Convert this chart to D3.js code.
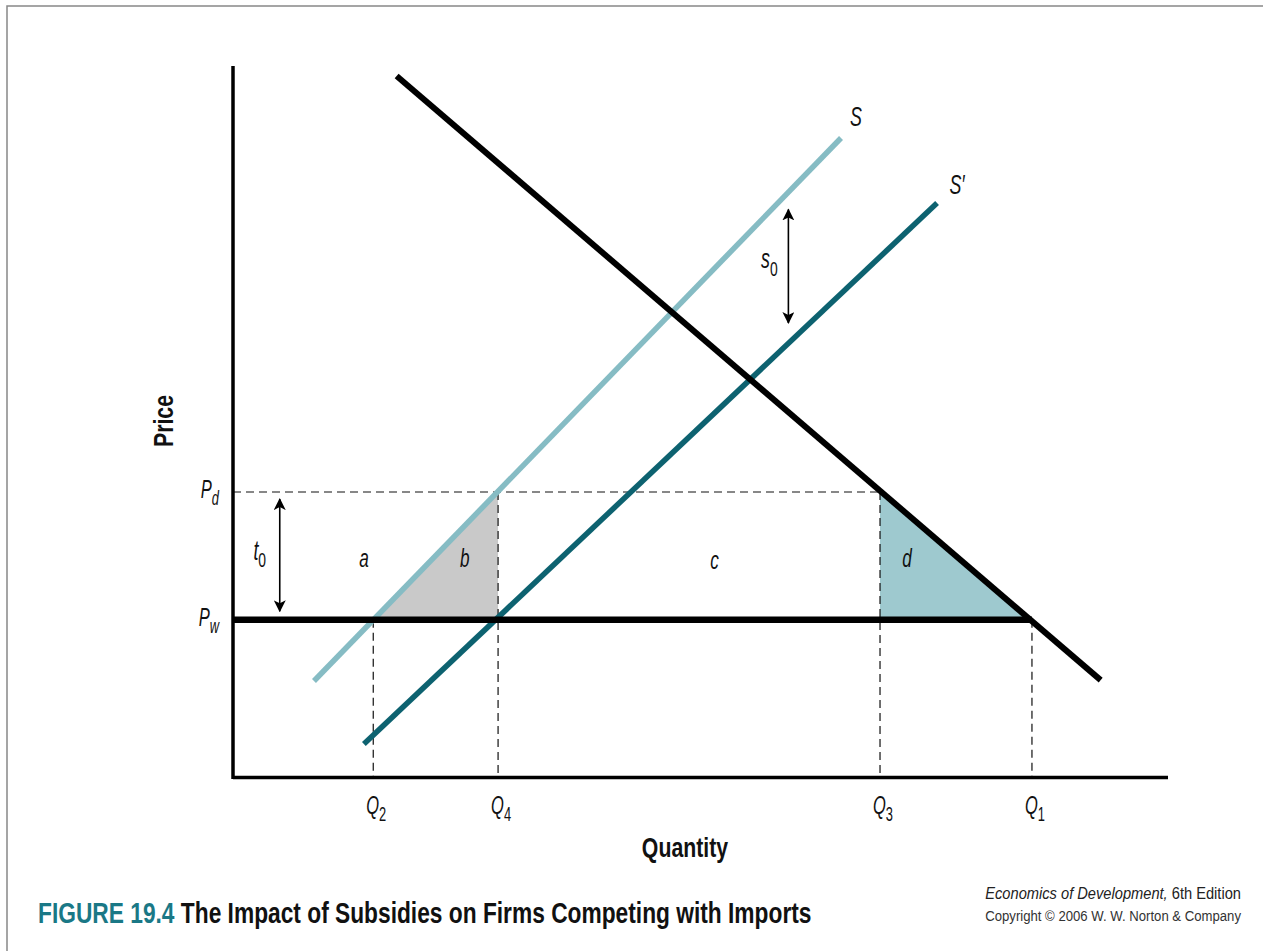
<!DOCTYPE html>
<html><head><meta charset="utf-8">
<script src="https://cdn.jsdelivr.net/npm/d3@7"></script>
<style>
html,body{margin:0;padding:0;background:#fff;}
text{font-family:"Liberation Sans",Arial,sans-serif;}
</style></head>
<body>
<script>
// ---- data (abstract units: quantity 0..100, price 0..100) ----
const quantityLabels = ["2", "4", "3", "1"];          // subscripts of Q
const quantityValues = [15, 28.35, 69.2, 85.45];      // Q2, Q4, Q3, Q1
const priceLabels = ["w", "d"];                       // subscripts of P
const priceValues = [22, 40];                         // Pw, Pd
const demandLine = [[17.5, 98.6], [92.8, 13.5]];
const supplyS = [[8.66, 13.38], [65.03, 89.86]];
const supplyS2 = [[14.0, 4.5], [75.3, 80.7]];
const areaLabels = ["a", "b", "c", "d"];
const areaLabelQ = [14, 24.8, 51.5, 72.1];
const areaLabelP = [30.7, 30.7, 30.4, 30.7];
const t0Arrow = [5.0, 39.0, 23.2];   // x, top, bottom
const s0Arrow = [59.4, 79.8, 63.8];  // x, top, bottom

const W = 1263, H = 951;
const svg = d3.select("body").append("svg").attr("width", W).attr("height", H);

// frame
svg.append("path").attr("d", "M7,951 V6 H1263").attr("fill", "none").attr("stroke", "#888").attr("stroke-width", 1.5);

const x = d3.scaleLinear().domain([0, 100]).range([233, 1168]);
const y = d3.scaleLinear().domain([0, 100]).range([776, 66]);

const Q = {}; quantityLabels.forEach((l, i) => Q[l] = quantityValues[i]);
const P = {}; priceLabels.forEach((l, i) => P[l] = priceValues[i]);

const line = d3.line().x(d => x(d[0])).y(d => y(d[1]));

// shaded triangles
svg.append("path").attr("d", line([[Q["2"], P.w], [Q["4"], P.d], [Q["4"], P.w]]) + "Z").attr("fill", "#c9c9c9");
svg.append("path").attr("d", line([[Q["3"], P.d], [Q["3"], P.w], [Q["1"], P.w]]) + "Z").attr("fill", "#9ec9cf");

// dashed guides
const guides = [
  [[0, P.d], [Q["3"], P.d]],
  [[Q["2"], P.w], [Q["2"], 0]],
  [[Q["4"], P.d], [Q["4"], 0]],
  [[Q["3"], P.d], [Q["3"], 0]],
  [[Q["1"], P.w], [Q["1"], 0]]
];
guides.forEach(g => svg.append("path").attr("d", line(g)).attr("fill", "none")
  .attr("stroke", "#111").attr("stroke-width", 1.2).attr("stroke-dasharray", "8,5"));

// supply curves
svg.append("path").attr("d", line(supplyS)).attr("stroke", "#86bcc4").attr("stroke-width", 5.5).attr("fill", "none");
svg.append("path").attr("d", line(supplyS2)).attr("stroke", "#0d6270").attr("stroke-width", 5.5).attr("fill", "none");

// world price line
svg.append("path").attr("d", line([[0, P.w], [Q["1"], P.w]])).attr("stroke", "#000").attr("stroke-width", 6.5).attr("fill", "none");

// demand
svg.append("path").attr("d", line(demandLine)).attr("stroke", "#000").attr("stroke-width", 6).attr("fill", "none");

// axes
svg.append("path").attr("d", `M${x(0)},${y(0)+1.5} H${x(100)}`).attr("stroke", "#000").attr("stroke-width", 3.5);
svg.append("path").attr("d", `M${x(0)},${y(100)} V${y(0)+3}`).attr("stroke", "#000").attr("stroke-width", 3.5);

// arrows
const defs = svg.append("defs");
defs.append("marker").attr("id", "ah").attr("viewBox", "0 0 12 12").attr("refX", 11).attr("refY", 6)
  .attr("markerWidth", 12).attr("markerHeight", 12).attr("markerUnits", "userSpaceOnUse").attr("orient", "auto-start-reverse")
  .append("path").attr("d", "M0,0 L12,6 L0,12 L3,6 Z").attr("fill", "#000");
[t0Arrow, s0Arrow].forEach(a => {
  svg.append("line").attr("x1", x(a[0])).attr("x2", x(a[0])).attr("y1", y(a[1])).attr("y2", y(a[2]))
    .attr("stroke", "#000").attr("stroke-width", 1.6)
    .attr("marker-start", "url(#ah)").attr("marker-end", "url(#ah)");
});

// condensed text helper: parts = [[text, italic, isSub]]
function label(px, py, parts, size, opts) {
  opts = opts || {};
  const g = svg.append("g");
  const t = g.append("text").attr("x", 0).attr("y", 0).attr("font-size", size)
    .attr("text-anchor", opts.anchor || "middle").attr("fill", opts.fill || "#111")
    .attr("font-weight", opts.weight || "normal");
  parts.forEach(p => {
    const s = t.append("tspan").text(p[0]);
    if (p[1]) s.attr("font-style", "italic");
    if (p[2]) s.attr("font-size", size * 0.78).attr("dy", size * 0.27);
    if (p[3]) s.attr("fill", p[3]);
  });
  let sx = opts.sx || 0.66;
  if (opts.width) sx = opts.width / t.node().getComputedTextLength();
  g.attr("transform", `translate(${px},${py}) scale(${sx},1)`);
  return t;
}

// price labels
priceLabels.forEach((l, i) => label(219, y(priceValues[i]) + 6, [["P", true], [l, true, true]], 25, {anchor: "end"}));

// quantity labels
quantityLabels.forEach((l, i) => label(x(quantityValues[i]) + 3, 814, [["Q", true], [l, false, true]], 25));

// area labels
areaLabels.forEach((l, i) => label(x(areaLabelQ[i]), y(areaLabelP[i]) + 9, [[l, true]], 26));

// t0, s0
label(x(t0Arrow[0]) - 20, y((t0Arrow[1] + t0Arrow[2]) / 2) + 5, [["t", true], ["0", false, true]], 27);
label(x(s0Arrow[0]) - 19, y((s0Arrow[1] + s0Arrow[2]) / 2) + 2, [["s", true], ["0", false, true]], 27);

// curve labels
label(x(supplyS[1][0]) + 15, y(supplyS[1][1]) - 12, [["S", true]], 27);
label(x(supplyS2[1][0]) + 20, y(supplyS2[1][1]) - 9, [["S\u2032", true]], 27);

// axis titles
label(685, 857, [["Quantity"]], 28, {weight: "bold", sx: 0.76});
svg.append("g").attr("transform", "translate(173,421) rotate(-90) scale(0.76,1)")
  .append("text").attr("font-size", 28).attr("font-weight", "bold").attr("text-anchor", "middle")
  .attr("fill", "#111").text("Price");

// figure title
label(38, 923, [["FIGURE 19.4", false, false, "#1a7886"], [" The Impact of Subsidies on Firms Competing with Imports"]],
  30, {weight: "bold", anchor: "start", width: 774});

// credit
label(1241, 899, [["Economics of Development,", true], [" 6th Edition"]], 17, {anchor: "end", width: 256, fill: "#222"});
label(1241, 921, [["Copyright \u00A9 2006 W. W. Norton & Company"]], 15, {anchor: "end", width: 256, fill: "#333"});
</script>
</body></html>
